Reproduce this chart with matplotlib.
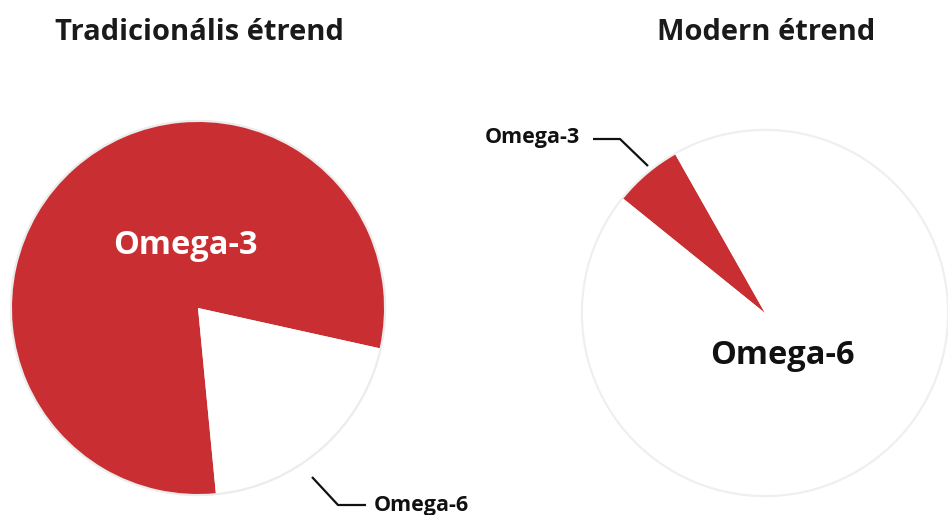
import matplotlib.pyplot as plt
from matplotlib.patches import Circle

# data
labels = ["Omega-3", "Omega-6"]
traditional = [80, 20]
modern = [6, 94]
titles = ["Tradicionális étrend", "Modern étrend"]

RED = "#c92f32"
H = 515  # picture height, y is flipped so we can think in image pixels

plt.rcParams['font.family'] = ['Open Sans', 'DejaVu Sans']

fig = plt.figure(figsize=(9.48, 5.15), dpi=100)
ax = fig.add_axes([0, 0, 1, 1])


def Y(y):
    return H - y


# left pie
cx1, cy1, r1 = 198, 308, 186
ax.add_patch(Circle((cx1, Y(cy1)), r1 + 1.5, color="#ececec", zorder=0))
ax.pie(traditional, colors=[RED, "white"], startangle=-12.5, counterclock=True,
       center=(cx1, Y(cy1)), radius=r1, wedgeprops=dict(linewidth=0))

# right pie
cx2, cy2, r2 = 765, 313, 182
ax.add_patch(Circle((cx2, Y(cy2)), r2 + 1.5, color="#efefef", zorder=0))
ax.pie(modern, colors=[RED, "white"], startangle=119.5, counterclock=True,
       center=(cx2, Y(cy2)), radius=r2, wedgeprops=dict(linewidth=0))

ax.set_xlim(0, 948)
ax.set_ylim(0, H)
ax.set_aspect("equal")
ax.axis("off")

# titles
ax.text(199, Y(33), titles[0], ha="center", va="center", fontsize=21,
        fontweight="bold", color="#1a1a1a")
ax.text(766, Y(33), titles[1], ha="center", va="center", fontsize=21,
        fontweight="bold", color="#1a1a1a")

# labels inside pies
ax.text(185, Y(245), labels[0], ha="center", va="center", fontsize=23.5,
        fontweight="bold", color="white")
ax.text(782, Y(355), labels[1], ha="center", va="center", fontsize=23.5,
        fontweight="bold", color="#111111")

# small callouts with leader lines
ax.plot([312, 338, 366], [Y(477), Y(505), Y(505)], color="#111111", lw=1.6,
        solid_capstyle="butt")
ax.text(374, Y(506), labels[1], ha="left", va="center", fontsize=15.5,
        fontweight="bold", color="#111111")

ax.plot([593, 620, 648], [Y(139), Y(139), Y(166)], color="#111111", lw=1.6,
        solid_capstyle="butt")
ax.text(580, Y(138), labels[0], ha="right", va="center", fontsize=15.5,
        fontweight="bold", color="#111111")

fig.savefig("out.png", dpi=100, facecolor="white")
